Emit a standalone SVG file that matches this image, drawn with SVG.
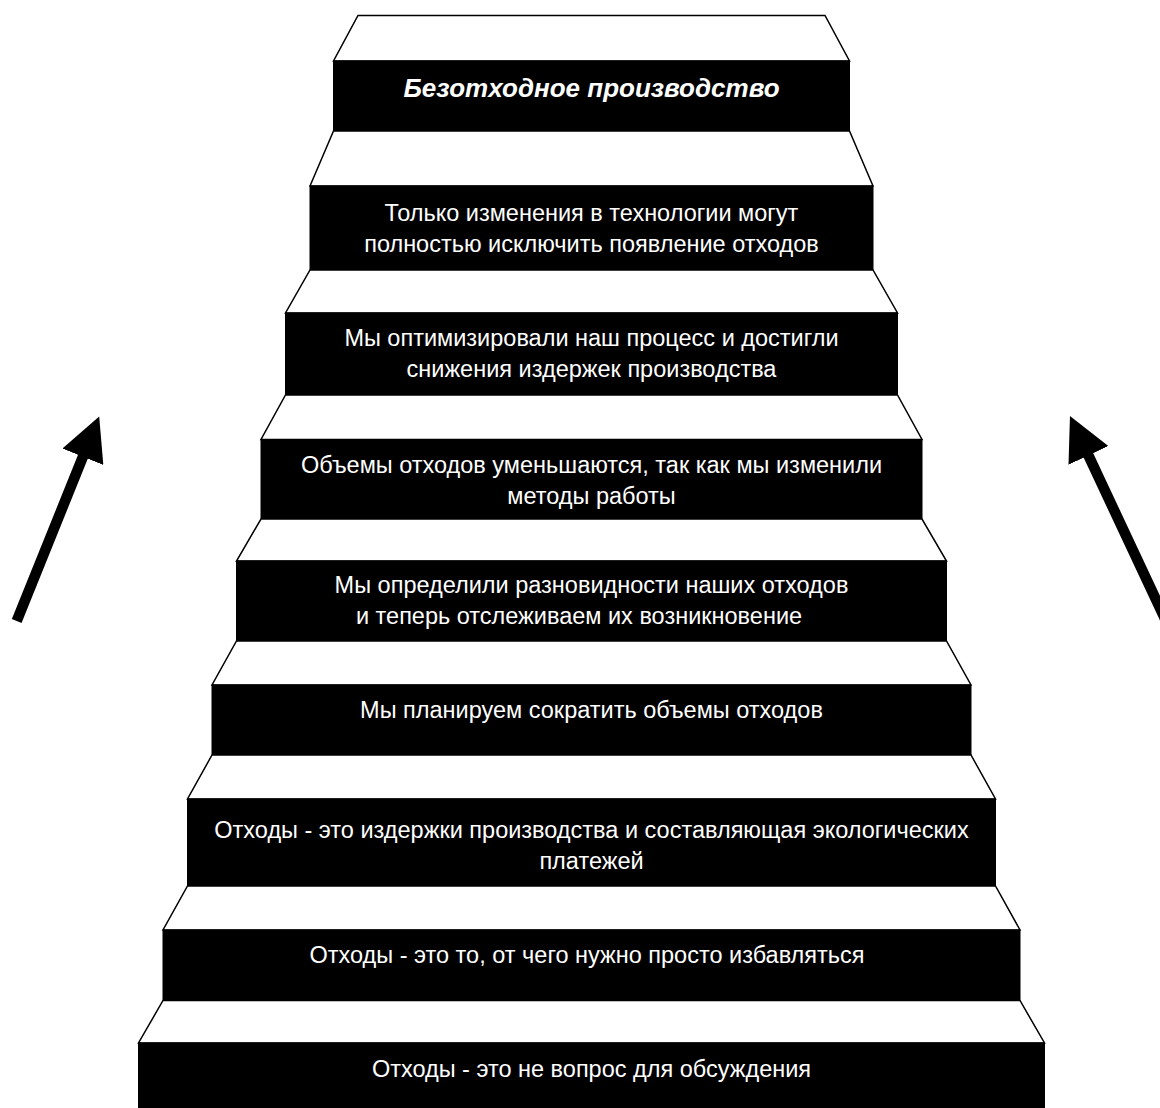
<svg xmlns="http://www.w3.org/2000/svg" width="1160" height="1108" viewBox="0 0 1160 1108">
<defs>
<style>
.tread{fill:#ffffff;stroke:#000000;stroke-width:1.5;stroke-linejoin:miter}
.front{fill:#000000;stroke:#000000;stroke-width:1}
.t{font-family:"Liberation Sans",Arial,sans-serif;font-size:23.5px;fill:#ffffff;text-anchor:middle}
.tb{font-family:"Liberation Sans",Arial,sans-serif;font-size:26px;font-weight:bold;font-style:italic;fill:#ffffff;text-anchor:middle}
.arrow{stroke:#000000;stroke-width:10.5;fill:none;stroke-linecap:butt}
</style>
<marker id="head" markerUnits="userSpaceOnUse" viewBox="0 0 44 44" markerWidth="44" markerHeight="44" refX="1" refY="22" orient="auto">
<path d="M0,0 L43.5,22 L0,44 Z" fill="#000000"/>
</marker>
</defs>
<rect width="1160" height="1108" fill="#ffffff"/>
<g id="step-1">
<polygon class="tread" points="358,15.5 825,15.5 849.5,61 333.5,61"/>
<rect class="front" x="333.5" y="61" width="516" height="70"/>
<text class="tb" x="591.5" y="97">Безотходное производство</text>
</g>
<g id="step-2">
<polygon class="tread" points="333.5,131 849.5,131 873,186 310,186"/>
<rect class="front" x="310" y="186" width="563" height="84"/>
<text class="t" x="591.5" y="221">Только изменения в технологии могут</text>
<text class="t" x="591.5" y="252">полностью исключить появление отходов</text>
</g>
<g id="step-3">
<polygon class="tread" points="310,270 873,270 897.5,313 285.5,313"/>
<rect class="front" x="285.5" y="313" width="612" height="82"/>
<text class="t" x="591.5" y="345.5">Мы оптимизировали наш процесс и достигли</text>
<text class="t" x="591.5" y="376.5">снижения издержек производства</text>
</g>
<g id="step-4">
<polygon class="tread" points="285.5,395 897.5,395 922,439.5 261,439.5"/>
<rect class="front" x="261" y="439.5" width="661" height="79.5"/>
<text class="t" x="591.5" y="473">Объемы отходов уменьшаются, так как мы изменили</text>
<text class="t" x="591.5" y="504">методы работы</text>
</g>
<g id="step-5">
<polygon class="tread" points="261,519 922,519 946.5,561 236.5,561"/>
<rect class="front" x="236.5" y="561" width="710" height="80"/>
<text class="t" x="591.5" y="593">Мы определили разновидности наших отходов</text>
<text class="t" x="579" y="624">и теперь отслеживаем их возникновение</text>
</g>
<g id="step-6">
<polygon class="tread" points="236.5,641 946.5,641 971,685 212,685"/>
<rect class="front" x="212" y="685" width="759" height="70"/>
<text class="t" x="591.5" y="718">Мы планируем сократить объемы отходов</text>
</g>
<g id="step-7">
<polygon class="tread" points="212,755 971,755 995.5,799 187.5,799"/>
<rect class="front" x="187.5" y="799" width="808" height="87"/>
<text class="t" x="591.5" y="838">Отходы - это издержки производства и составляющая экологических</text>
<text class="t" x="591.5" y="869">платежей</text>
</g>
<g id="step-8">
<polygon class="tread" points="187.5,886 995.5,886 1020,930 163,930"/>
<rect class="front" x="163" y="930" width="857" height="70.5"/>
<text class="t" x="587" y="963">Отходы - это то, от чего нужно просто избавляться</text>
</g>
<g id="step-9">
<polygon class="tread" points="163,1000.5 1020,1000.5 1044.5,1043 138.5,1043"/>
<rect class="front" x="138.5" y="1043" width="906" height="70"/>
<text class="t" x="591.5" y="1077">Отходы - это не вопрос для обсуждения</text>
</g>
<g id="connectors">
<line class="arrow" x1="16.7" y1="621" x2="83.3" y2="455.8" marker-end="url(#head)"/>
<line class="arrow" x1="1166" y1="621" x2="1088" y2="454.5" marker-end="url(#head)"/>
</g>
</svg>
